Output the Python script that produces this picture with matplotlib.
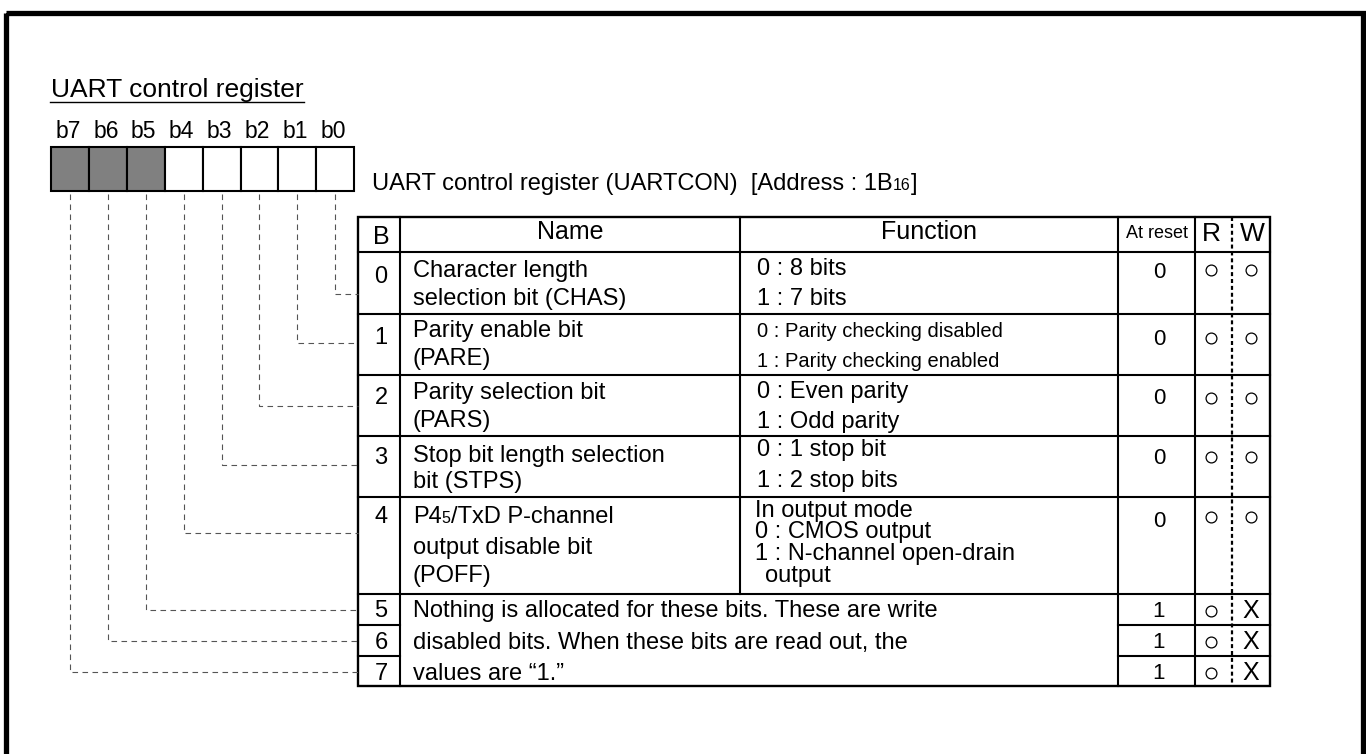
import re
import matplotlib
matplotlib.use("Agg")
import matplotlib.pyplot as plt
from matplotlib.patches import Rectangle

plt.rcParams['font.family'] = ['Liberation Sans', 'DejaVu Sans']

# ---------------- data ----------------
title = "UART control register"
bit_labels = ["b7", "b6", "b5", "b4", "b3", "b2", "b1", "b0"]
reserved_bits = [True, True, True, False, False, False, False, False]   # b7 .. b0
caption = "UART control register (UARTCON)  [Address : 1B{16}]"
headers = ["B", "Name", "Function", "At reset", "R", "W"]
bit_numbers = ["0", "1", "2", "3", "4", "5", "6", "7"]
names = [
    ["Character length", "selection bit (CHAS)"],
    ["Parity enable bit", "(PARE)"],
    ["Parity selection bit", "(PARS)"],
    ["Stop bit length selection", "bit (STPS)"],
    ["P4{5}/TxD P-channel", "output disable bit", "(POFF)"],
]
functions = [
    ["0 : 8 bits", "1 : 7 bits"],
    ["0 : Parity checking disabled", "1 : Parity checking enabled"],
    ["0 : Even parity", "1 : Odd parity"],
    ["0 : 1 stop bit", "1 : 2 stop bits"],
    ["In output mode", "0 : CMOS output", "1 : N-channel open-drain", "output"],
]
reserved_note = [
    "Nothing is allocated for these bits. These are write",
    "disabled bits. When these bits are read out, the",
    "values are \u201c1.\u201d",
]
reset_values = ["0", "0", "0", "0", "0", "1", "1", "1"]
readable = [True] * 8
writable = [True, True, True, True, True, False, False, False]

# ---------------- layout ----------------
W, H = 1366, 754
fig = plt.figure(figsize=(W / 100, H / 100), dpi=100)
ax = fig.add_axes([0, 0, 1, 1])
ax.set_xlim(0, W)
ax.set_ylim(H, 0)
ax.axis("off")
renderer = fig.canvas.get_renderer()

FS = 17
LW = 1.5

col_x = [358, 400, 740, 1118, 1195, 1232, 1270]
row_y = [217, 252, 314, 375, 436, 497, 594, 625, 656, 686]
box_x0, box_w, box_y0, box_y1 = 51, 37.9, 147, 191

digit_base = [283, 344, 404, 464, 523, 617, 649, 680]
reset_base = [278, 345, 404, 464, 527, 617, 648, 679]
mark_y = [270, 338, 398, 457, 517, 611, 642, 673]
conn_y = [294, 343, 406, 465, 533, 610, 641, 672]
name_base = [[277, 305], [337, 365], [399, 427], [462, 488], [523, 554, 582]]
func_base = [[275, 305], [337, 367], [398, 428], [456, 487], [517, 538, 560, 582]]
func_x = [757, 757, 757, 757, 755]
func_indent = [[0, 0], [0, 0], [0, 0], [0, 0], [0, 0, 0, 10]]
func_size = [FS, 14.5, FS, FS, FS]
note_base = [617, 649, 680]


def draw_rich(x, y, s, size, small, **kw):
    """Draw text left-aligned at baseline y; parts in {} drawn smaller."""
    parts = re.split(r"(\{[^}]*\})", s)
    cx = x
    for p in parts:
        if not p:
            continue
        if p.startswith("{"):
            txt, fs = p[1:-1], small
        else:
            txt, fs = p, size
        t = ax.text(cx, y, txt, fontsize=fs, ha="left", va="baseline", **kw)
        bb = t.get_window_extent(renderer)
        cx += bb.width
    return cx


# outer frame
ax.add_patch(Rectangle((5.5, 12.5), 1357.5, 760, fill=False, lw=3.8,
                       ec="black", clip_on=True))

# title
end = draw_rich(51, 97, title, 19, 12)
ax.plot([50, end], [102, 102], color="black", lw=1.0)

# bit labels and boxes
for i, (lab, res) in enumerate(zip(bit_labels, reserved_bits)):
    x0 = box_x0 + i * box_w
    ax.add_patch(Rectangle((x0, box_y0), box_w, box_y1 - box_y0,
                           fc="#808080" if res else "white", ec="black", lw=LW))
    ax.text(x0 + box_w / 2 - 2, 138, lab, fontsize=16.5, ha="center", va="baseline")

# caption
draw_rich(372, 190, caption, FS, 11.5)

# connectors
for i in range(8):
    bit = 7 - i
    xc = box_x0 + (i + 0.5) * box_w
    ax.plot([xc, xc, col_x[0]], [194, conn_y[bit], conn_y[bit]],
            color="#555555", lw=0.8, linestyle=(0, (5, 4)))

# table grid
x_left, x_right = col_x[0], col_x[-1]
y_top, y_bot = row_y[0], row_y[-1]
ax.add_patch(Rectangle((x_left, y_top), x_right - x_left, y_bot - y_top,
                       fill=False, ec="black", lw=LW + 0.2))
for yy in row_y[1:7]:
    ax.plot([x_left, x_right], [yy, yy], color="black", lw=LW)
for yy in row_y[7:9]:
    ax.plot([col_x[0], col_x[1]], [yy, yy], color="black", lw=LW)
    ax.plot([col_x[3], col_x[6]], [yy, yy], color="black", lw=LW)
for xx in [col_x[1], col_x[3], col_x[4]]:
    ax.plot([xx, xx], [y_top, y_bot], color="black", lw=LW)
ax.plot([col_x[2], col_x[2]], [y_top, row_y[6]], color="black", lw=LW)
ax.plot([col_x[5], col_x[5]], [y_top, y_bot], color="black", lw=1.6,
        linestyle=(0, (1.8, 1.3)))

# headers
hdr_x = [381, 570, 929, 1157, 1211, 1252]
hdr_base = [244, 239, 239, 238, 241, 241]
hdr_size = [FS + 1, FS + 1, FS + 1, 13, FS + 2, FS + 2]
for h, hx, hb, hs in zip(headers, hdr_x, hdr_base, hdr_size):
    ax.text(hx, hb, h, fontsize=hs, ha="center", va="baseline")

# bit numbers, reset values, R/W marks
for b in range(8):
    ax.text(381, digit_base[b], bit_numbers[b], fontsize=FS, ha="center", va="baseline")
    ax.text(1159, reset_base[b], reset_values[b], fontsize=FS - 1, ha="center",
            va="baseline")
    if readable[b]:
        ax.plot([1211], [mark_y[b]], marker="o", ms=7.8, mfc="white", mec="black",
                mew=0.9)
    if writable[b]:
        ax.plot([1251], [mark_y[b]], marker="o", ms=7.8, mfc="white", mec="black",
                mew=0.9)
    else:
        ax.text(1251, mark_y[b] + 7, "X", fontsize=18, ha="center", va="baseline")

# names and functions
for r in range(5):
    for line, yb in zip(names[r], name_base[r]):
        draw_rich(413, yb, line, FS, 11.5)
    for line, yb, ind in zip(functions[r], func_base[r], func_indent[r]):
        ax.text(func_x[r] + ind, yb, line, fontsize=func_size[r], ha="left",
                va="baseline")

for line, yb in zip(reserved_note, note_base):
    ax.text(413, yb, line, fontsize=FS, ha="left", va="baseline")

fig.savefig("out.png", dpi=100)
